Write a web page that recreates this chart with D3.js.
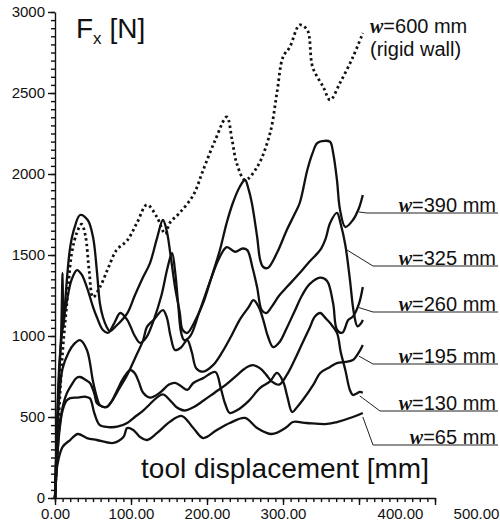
<!DOCTYPE html>
<html>
<head>
<meta charset="utf-8">
<script src="https://cdnjs.cloudflare.com/ajax/libs/d3/7.8.5/d3.min.js"></script>
<style>
	body { margin: 0; background: #fff; }
	svg { display: block; }
	text { font-family: Arial, "Liberation Sans", sans-serif; fill: #111; }
</style>
</head>
<body>
<svg id="chart" width="500" height="525"></svg>
<script>
// Tick values
const xTicks = [0, 100, 200, 300, 400, 500];
const yTicks = [0, 500, 1000, 1500, 2000, 2500, 3000];

// Force curves [displacement mm, Fx N]
const w600 = [[0,0],[5,500],[10,900],[16,1220],[22,1510],[29,1640],[35,1690],[40,1620],[45,1400],[50,1240],[59,1300],[70,1420],[81,1530],[95,1590],[108,1700],[121,1810],[134,1735],[145,1630],[151,1698],[164,1760],[182,1870],[195,2025],[210,2200],[226,2352],[233,2210],[239,2068],[250,1963],[266,2043],[283,2253],[292,2500],[300,2722],[309,2784],[322,2920],[332,2889],[339,2660],[353,2537],[362,2457],[375,2562],[392,2722],[405,2870]];
const w390 = [[0,0],[4,600],[8,1000],[10,1389],[11,1050],[14,1250],[20,1549],[26,1673],[33,1747],[43,1716],[50,1611],[55,1407],[59,1204],[63,1117],[68,1056],[72,1030],[80,1060],[95,1140],[105,1250],[116,1364],[125,1450],[134,1600],[142,1716],[147,1650],[152,1500],[158,1300],[164,1150],[168,1037],[174,1019],[185,1100],[195,1204],[205,1350],[217,1531],[226,1700],[234,1821],[243,1920],[250,1963],[255,1900],[259,1821],[266,1611],[270,1469],[274,1426],[280,1420],[292,1512],[305,1654],[315,1750],[322,1821],[332,2025],[339,2130],[345,2191],[355,2205],[362,2198],[366,2130],[371,1963],[375,1780],[382,1673],[392,1716],[400,1790],[405,1870]];
const w325 = [[0,0],[3,500],[6,850],[10,1050],[15,1200],[22,1350],[29,1407],[35,1380],[42,1300],[50,1180],[55,1117],[63,1037],[70,1020],[78,1080],[86,1142],[95,1100],[105,1000],[112,957],[120,990],[130,1100],[140,1250],[148,1420],[154,1512],[158,1400],[162,1200],[166,1020],[170,975],[178,1000],[190,1150],[205,1350],[216,1480],[226,1549],[237,1520],[247,1540],[253,1530],[260,1420],[266,1300],[272,1160],[278,1142],[285,1180],[295,1250],[305,1302],[322,1389],[335,1460],[349,1531],[356,1600],[362,1698],[371,1760],[376,1690],[382,1562],[388,1350],[393,1150],[398,1060],[403,1080],[405,1100]];
const w260 = [[0,0],[3,400],[6,650],[10,800],[18,900],[25,950],[33,975],[42,914],[50,720],[55,623],[59,574],[68,562],[75,600],[85,680],[95,760],[105,860],[116,975],[121,1056],[130,1100],[142,1160],[147,1117],[152,1000],[158,913],[166,930],[174,975],[180,900],[186,800],[195,780],[208,820],[220,900],[232,1000],[243,1100],[255,1180],[261,1222],[268,1180],[274,1100],[280,1000],[287,932],[295,960],[305,1050],[315,1150],[325,1250],[335,1320],[349,1360],[358,1340],[366,1200],[371,1040],[378,1020],[386,1100],[392,1120],[400,1200],[405,1302]];
const w195 = [[0,0],[3,250],[6,450],[10,560],[15,640],[22,700],[28,740],[33,747],[40,730],[46,710],[52,640],[55,586],[62,565],[68,562],[75,600],[82,667],[90,740],[99,790],[105,770],[110,720],[116,650],[125,620],[138,650],[150,700],[158,710],[166,690],[174,667],[182,710],[195,740],[211,778],[218,680],[224,580],[230,525],[240,543],[255,600],[270,680],[283,720],[292,772],[300,720],[306,620],[312,531],[320,570],[326,605],[340,700],[349,772],[362,809],[371,833],[382,840],[392,852],[400,900],[405,944]];
const w130 = [[0,0],[3,250],[6,420],[10,540],[15,600],[20,617],[30,620],[40,625],[46,615],[52,520],[59,450],[70,438],[82,440],[95,463],[105,500],[116,540],[125,580],[134,620],[142,640],[152,600],[160,560],[170,540],[182,560],[195,600],[210,650],[225,700],[240,760],[250,800],[260,820],[270,800],[278,760],[285,720],[295,700],[305,760],[315,850],[325,950],[335,1050],[342,1120],[349,1142],[356,1110],[362,1080],[371,1019],[376,900],[382,790],[388,667],[392,636],[397,645],[401,655],[405,650]];
const w65 = [[0,0],[3,200],[10,315],[20,358],[30,395],[42,370],[55,358],[77,340],[90,376],[95,432],[103,420],[112,376],[121,358],[134,400],[151,470],[167,506],[182,432],[195,370],[213,420],[230,463],[250,494],[266,432],[285,395],[305,438],[313,469],[331,463],[358,457],[371,469],[392,500],[405,525]];

// Series labels
const widths = ["600", "390", "325", "260", "195", "130", "65"];

const svg = d3.select("#chart");

const x = d3.scaleLinear().domain([0, 500]).range([55, 435]);
const y = d3.scaleLinear().domain([0, 3000]).range([498, 12]);

// Minor ticks
svg.append("g")
	.attr("transform", "translate(0,498)")
	.call(d3.axisBottom(x).tickValues(d3.range(0, 501, 10)).tickSize(4).tickFormat(""))
	.call(g => g.select(".domain").remove());
svg.append("g")
	.attr("transform", "translate(55,0)")
	.call(d3.axisLeft(y).tickValues(d3.range(0, 3001, 50)).tickSize(4).tickFormat(""))
	.call(g => g.select(".domain").remove());

// X Axis
const gx = svg.append("g")
	.attr("transform", "translate(0,498)")
	.call(d3.axisBottom(x).tickValues(xTicks).tickSize(7).tickSizeOuter(0).tickFormat(d3.format(".2f")));
gx.selectAll("text")
	.style("font-size", "15px")
	.attr("dx", d => d >= 400 ? 41 : 0);

// Y Axis
svg.append("g")
	.attr("transform", "translate(55,0)")
	.call(d3.axisLeft(y).tickValues(yTicks).tickSize(7).tickSizeOuter(0).tickFormat(d3.format("d")))
	.selectAll("text")
		.style("font-size", "15px");

svg.selectAll(".domain, .tick line").attr("stroke", "#111").attr("stroke-width", 1.4);

// Curves
const line = d3.line()
	.x(d => x(d[0]))
	.y(d => y(d[1]))
	.curve(d3.curveCatmullRom.alpha(0.5));

const series = [w600, w390, w325, w260, w195, w130, w65];

svg.append("g").selectAll("path")
	.data(series)
	.enter().append("path")
		.attr("d", line)
		.attr("fill", "none")
		.attr("stroke", "#111")
		.attr("stroke-width", (d, i) => i === 0 ? 2.8 : 2.3)
		.attr("stroke-dasharray", (d, i) => i === 0 ? "2.5,3" : null)
		.attr("stroke-linejoin", "round");

// Labels with leader lines: anchor on the curve, corner, label baseline
const labelLayout = [
	{ at: 405, lineY: null, textY: 33 },
	{ at: 400, cornerX: 367, lineY: 213 },
	{ at: 382, cornerX: 373, lineY: 266 },
	{ at: 400, cornerX: 373, lineY: 312 },
	{ at: 400, cornerX: 373, lineY: 364 },
	{ at: 401, cornerX: 380, lineY: 411 },
	{ at: 405, cornerX: 373, lineY: 445 }
];

const labels = svg.append("g");
labelLayout.forEach(function(l, i) {
	var pts = series[i];
	var p = pts.reduce((a, b) => Math.abs(b[0] - l.at) < Math.abs(a[0] - l.at) ? b : a);
	var textY = l.lineY === null ? l.textY : l.lineY - 1;
	if (l.lineY !== null) {
		labels.append("path")
			.attr("d", "M" + x(p[0]) + "," + (y(p[1]) + 4) + "L" + l.cornerX + "," + l.lineY + "H498")
			.attr("fill", "none")
			.attr("stroke", "#222")
			.attr("stroke-width", 1);
	}
	var t = labels.append("text")
		.attr("x", l.lineY === null ? 370 : 496)
		.attr("y", textY)
		.attr("text-anchor", l.lineY === null ? "start" : "end")
		.style("font-size", "20px");
	t.append("tspan")
		.style("font-family", "'Liberation Serif', 'Times New Roman', serif")
		.style("font-style", "italic")
		.style("font-weight", "bold")
		.text("w");
	t.append("tspan").text("=" + widths[i] + " mm");
	if (i === 0) {
		labels.append("text")
			.attr("x", 370)
			.attr("y", 56)
			.style("font-size", "20px")
			.text("(rigid wall)");
	}
});

// Titles
var fx = svg.append("text")
	.attr("x", 76)
	.attr("y", 38)
	.style("font-size", "28px");
fx.append("tspan").text("F");
fx.append("tspan").attr("dy", 6).style("font-size", "17px").text("x");
fx.append("tspan").attr("dy", -6).text(" [N]");

svg.append("text")
	.attr("x", 285)
	.attr("y", 478)
	.attr("text-anchor", "middle")
	.style("font-size", "28px")
	.text("tool displacement [mm]");
</script>
</body>
</html>
